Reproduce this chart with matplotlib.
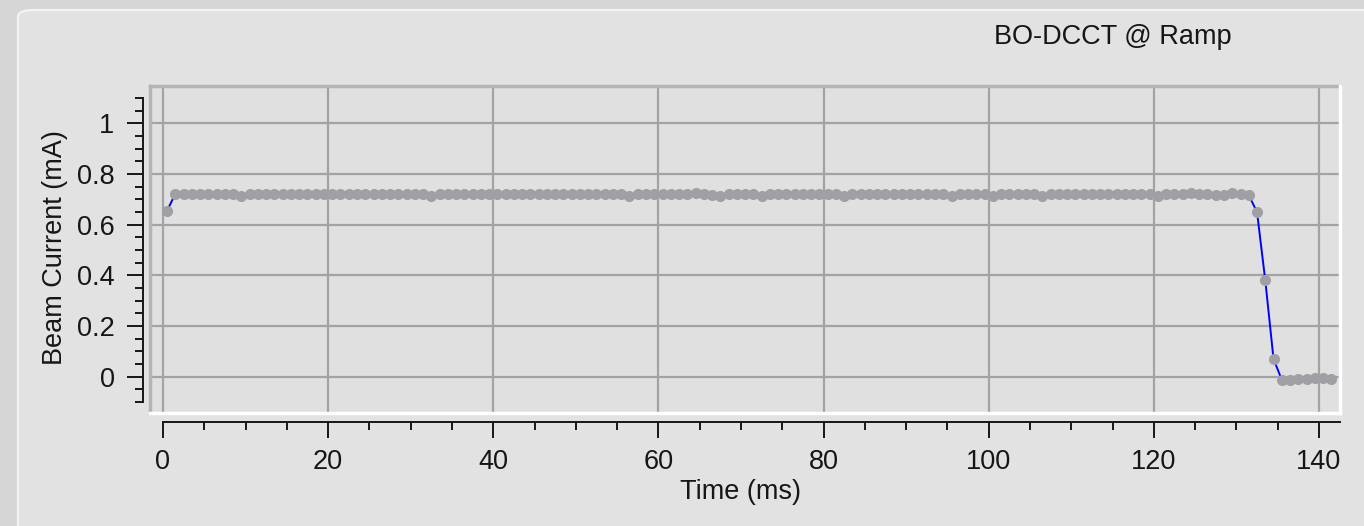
import numpy as np
import matplotlib
matplotlib.use('Agg')
import matplotlib.pyplot as plt
from matplotlib.patches import FancyBboxPatch
from matplotlib.ticker import MultipleLocator, FixedLocator

plt.rcParams['font.family'] = ['Liberation Sans', 'DejaVu Sans']

# sampling time of each point (ms), one sample per ms
time_ms = np.arange(142) + 0.5

# beam current (mA)
current_ma = [
    0.655, 0.722, 0.722, 0.722, 0.722, 0.722, 0.722, 0.722, 0.722, 0.714,
    0.722, 0.722, 0.722, 0.721, 0.722, 0.722, 0.722, 0.722, 0.722, 0.722,
    0.722, 0.722, 0.722, 0.722, 0.722, 0.722, 0.721, 0.722, 0.722, 0.722,
    0.722, 0.722, 0.714, 0.722, 0.722, 0.722, 0.722, 0.722, 0.722, 0.722,
    0.722, 0.722, 0.722, 0.722, 0.722, 0.722, 0.722, 0.722, 0.722, 0.722,
    0.722, 0.722, 0.722, 0.722, 0.722, 0.722, 0.714, 0.722, 0.722, 0.722,
    0.722, 0.722, 0.722, 0.722, 0.724, 0.722, 0.716, 0.713, 0.722, 0.722,
    0.722, 0.722, 0.714, 0.722, 0.722, 0.722, 0.722, 0.722, 0.722, 0.722,
    0.722, 0.722, 0.714, 0.722, 0.722, 0.722, 0.722, 0.722, 0.722, 0.722,
    0.722, 0.722, 0.722, 0.722, 0.722, 0.715, 0.722, 0.722, 0.722, 0.722,
    0.714, 0.722, 0.722, 0.722, 0.722, 0.722, 0.715, 0.722, 0.722, 0.722,
    0.722, 0.722, 0.722, 0.722, 0.722, 0.722, 0.722, 0.722, 0.722, 0.722,
    0.715, 0.722, 0.722, 0.722, 0.724, 0.722, 0.722, 0.716, 0.717, 0.724,
    0.722, 0.716, 0.650, 0.380, 0.070, -0.012, -0.012, -0.010, -0.010, -0.003,
    -0.003, -0.010,
]

x_major = [0, 20, 40, 60, 80, 100, 120, 140]
y_major = [0, 0.2, 0.4, 0.6, 0.8, 1.0]
y_major_labels = ['0', '0.2', '0.4', '0.6', '0.8', '1']

W, H = 1364, 526
FS = 19.5
INK = '#161616'
fig = plt.figure(figsize=(W / 100, H / 100), dpi=100)
fig.patch.set_facecolor('#d6d6d6')

# window panel
panel = FancyBboxPatch((18 / W, -0.1), 1.2, 1.0 - 10 / H + 0.1,
                       boxstyle='round,pad=0,rounding_size=0.012',
                       transform=fig.transFigure, facecolor='#e2e2e2',
                       edgecolor='#f4f4f4', linewidth=1.5, zorder=-5)
fig.patches.append(panel)

ax = fig.add_axes([150 / W, (526 - 413) / H, 1190 / W, 327 / H])
ax.set_zorder(2)
ax.set_facecolor('#e0e0e0')
ax.set_xlim(-1.57, 142.55)
ax.set_ylim(-0.143, 1.147)

ax.grid(True, which='major', color='#a3a3a3', linewidth=1.6)
ax.set_axisbelow(True)

ax.plot(time_ms, current_ma, color='#0000ff', linewidth=1.4, zorder=3)
ax.plot(time_ms, current_ma, linestyle='none', marker='o', markersize=8,
        color='#a0a0a4', markeredgewidth=0, zorder=4)

# sunken canvas frame
kw = dict(transform=ax.transAxes, clip_on=False, zorder=5)
ax.plot([0, 0], [0, 1], color='#b4b4b4', linewidth=2.5, **kw)
ax.plot([0, 1], [1, 1], color='#b4b4b4', linewidth=2.5, **kw)
ax.plot([0, 1], [0, 0], color='#ffffff', linewidth=2.5, **kw)
ax.plot([1, 1], [0, 1], color='#ffffff', linewidth=2.5, **kw)

for s in ['top', 'right']:
    ax.spines[s].set_visible(False)
ax.spines['left'].set_position(('outward', 5))
ax.spines['bottom'].set_position(('outward', 6.5))
ax.spines['left'].set_bounds(-0.1, 1.1)
ax.spines['bottom'].set_bounds(0, 142.5)
for s in ['left', 'bottom']:
    ax.spines[s].set_linewidth(1.4)
    ax.spines[s].set_color(INK)

ax.xaxis.set_major_locator(FixedLocator(x_major))
ax.xaxis.set_minor_locator(MultipleLocator(5))
ax.set_yticks(y_major)
ax.set_yticklabels(y_major_labels)
ax.yaxis.set_minor_locator(FixedLocator([v / 100 for v in range(-10, 115, 5)]))

ax.tick_params(which='major', direction='out', length=11.5, width=1.4,
               color=INK, labelsize=FS, labelcolor=INK)
ax.tick_params(axis='x', which='major', pad=8)
ax.tick_params(axis='y', which='major', pad=9)
ax.tick_params(which='minor', direction='out', length=6, width=1.4,
               color=INK)

fig.text(740 / W, 1 - 492 / H, 'Time (ms)', ha='center', va='center',
         fontsize=FS, color=INK)
fig.text(55 / W, 1 - 248 / H, 'Beam Current (mA)', ha='center', va='center',
         rotation=90, fontsize=FS, color=INK)
fig.text(1113 / W, 1 - 37 / H, 'BO-DCCT @ Ramp', ha='center', va='center',
         fontsize=FS, color=INK)

fig.savefig('out.png', dpi=100, facecolor=fig.get_facecolor())
